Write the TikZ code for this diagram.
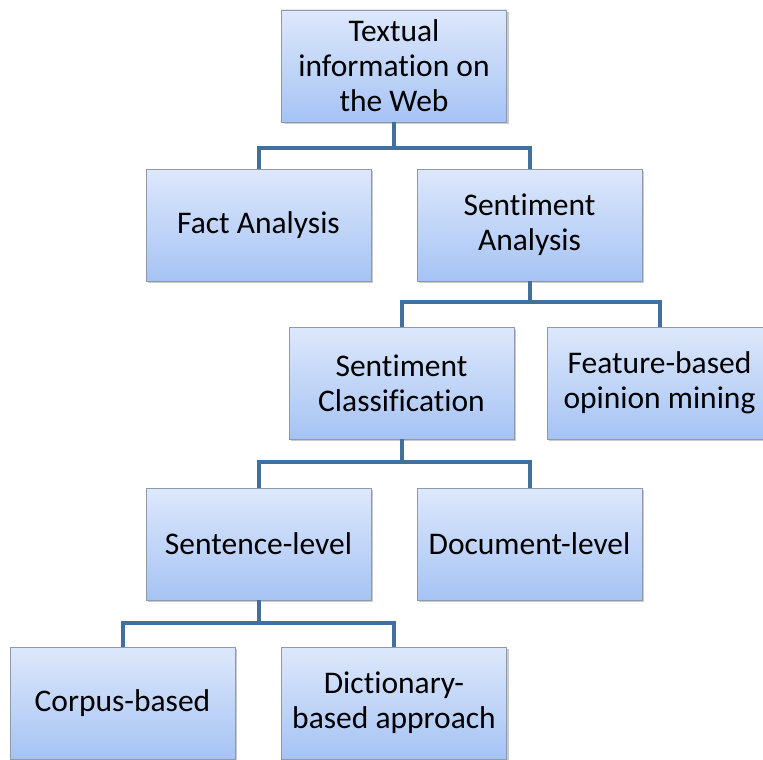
\documentclass[tikz,border=0pt]{standalone}
\usepackage{fontspec}
\setmainfont{Carlito}[Ligatures={NoCommon}]
\usetikzlibrary{shadows}
\definecolor{boxtop}{HTML}{DDE8FB}
\definecolor{boxbot}{HTML}{A6C3F5}
\definecolor{boxline}{HTML}{8E9AA8}
\definecolor{linkblue}{HTML}{41709F}
\tikzset{
  topic/.style={draw=boxline, line width=0.8pt, top color=boxtop, bottom color=boxbot,
    minimum width=225pt, minimum height=112pt, inner sep=0pt, align=center,
    font=\fontsize{31.5}{35}\selectfont,
    drop shadow={shadow xshift=2pt, shadow yshift=-2pt, opacity=0.35, fill=black!60}},
  link/.style={draw=linkblue, line width=4pt}
}
\begin{document}
\begin{tikzpicture}[x=1pt, y=-1pt]
\useasboundingbox (0,0) rectangle (763,760);
\begin{scope}
\clip (0,0) rectangle (763,760);
\node[topic] (web)   at (394,66)    {Textual\\information on\\the Web};
\node[topic] (fact)  at (258.5,225) {Fact Analysis};
\node[topic] (senti) at (529.5,225) {Sentiment\\Analysis};
\node[topic] (class) at (401.5,383) {Sentiment\\Classification};
\node[topic] (feat)  at (659.5,383) {Feature-based\\opinion mining};
\node[topic] (sent)  at (258.5,544) {Sentence-level};
\node[topic] (doc)   at (529.5,544) {Document-level};
\node[topic] (corp)  at (122.5,703) {Corpus-based};
\node[topic] (dict)  at (394,703)   {Dictionary-\\based approach};

\draw[link] (web.south)   -- ++(0,26)  -| (fact.north);
\draw[link] (web.south)   -- ++(0,26)  -| (senti.north);
\draw[link] (senti.south) -- ++(0,21)  -| (class.north);
\draw[link] (senti.south) -- ++(0,21)  -| (feat.north);
\draw[link] (class.south) -- ++(0,23)  -| (sent.north);
\draw[link] (class.south) -- ++(0,23)  -| (doc.north);
\draw[link] (sent.south)  -- ++(0,23)  -| (corp.north);
\draw[link] (sent.south)  -- ++(0,23)  -| (dict.north);
\end{scope}
\end{tikzpicture}
\end{document}
